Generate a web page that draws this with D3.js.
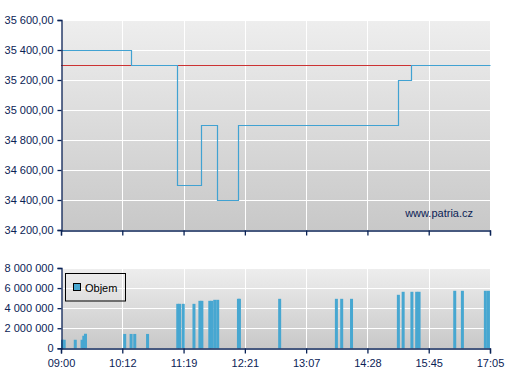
<!DOCTYPE html>
<html>
<head>
<meta charset="utf-8">
<script src="https://cdn.jsdelivr.net/npm/d3@7"></script>
<style>
  body { margin: 0; background: #fff; }
  svg text { font-family: "Liberation Sans", Arial, sans-serif; font-size: 11px; fill: #0b2356; }
</style>
</head>
<body>
<div id="chart"></div>
<script>
// tick labels on the time axis (evenly spaced on the chart)
var timeTicks = ['09:00', '10:12', '11:19', '12:21', '13:07', '14:28', '15:45', '17:05'];
var priceTicks = [34200, 34400, 34600, 34800, 35000, 35200, 35400, 35600];
var volTicks = [0, 2000000, 4000000, 6000000, 8000000];

// price steps (value holds from this time on)
var priceTimes = ['09:00', '10:22', '11:12', '11:37', '11:53', '12:14', '15:07', '15:23', '17:05'];
var priceValues = [35400, 35300, 34500, 34900, 34400, 34900, 35200, 35300, 35300];
var prevClose = 35300;

// volume bars
var volTimes = ['09:00', '09:02', '09:15', '09:23', '09:25', '09:27', '10:13', '10:20', '10:24', '10:38',
  '11:11', '11:13', '11:17', '11:28', '11:34', '11:36', '11:44', '11:46', '11:49', '11:52',
  '12:13', '12:14', '12:46', '13:45', '13:52', '14:05', '15:05', '15:11', '15:22', '15:28',
  '15:31', '16:17', '16:27', '16:57', '17:01'];
var volValues = [850000, 850000, 850000, 850000, 1250000, 1450000, 1430000, 1430000, 1430000, 1430000,
  4430000, 4430000, 4430000, 4430000, 4730000, 4730000, 4730000, 4730000, 4830000, 4830000,
  4930000, 4930000, 4930000, 4930000, 4930000, 4930000, 5330000, 5630000, 5630000, 5630000,
  5630000, 5730000, 5730000, 5730000, 5730000];

var width = 507, height = 380;
var left = 61, right = 490;
var top1 = 20, bottom1 = 230;
var top2 = 268, bottom2 = 348.3;
var axisColor = '#0b2356';

function toMin(s) {
  var p = s.split(':');
  return +p[0] * 60 + +p[1];
}

var tickMins = timeTicks.map(toMin);
var x = d3.scaleLinear()
  .domain(tickMins)
  .range(tickMins.map(function (d, i) { return left + i * (right - left) / (tickMins.length - 1); }));

var y1 = d3.scaleLinear().domain([34200, 35600]).range([bottom1, top1]);
var y2 = d3.scaleLinear().domain([0, 8000000]).range([bottom2, top2]);

var svg = d3.select('#chart').append('svg')
  .attr('width', width)
  .attr('height', height);

var defs = svg.append('defs');
var grad = defs.append('linearGradient')
  .attr('id', 'bg')
  .attr('x1', 0).attr('y1', 0).attr('x2', 0).attr('y2', 1);
grad.append('stop').attr('offset', '0%').attr('stop-color', '#eeeeee');
grad.append('stop').attr('offset', '100%').attr('stop-color', '#c8c8c8');

function fmt(v, dec) {
  var s = d3.format(dec ? ',.2f' : ',.0f')(v);
  return s.replace(/,/g, ' ').replace('.', ',');
}

function panel(y, yTicks, top, bottom, dec, showLabels) {
  svg.append('rect')
    .attr('x', left).attr('y', top)
    .attr('width', right - left).attr('height', bottom - top)
    .attr('fill', 'url(#bg)');

  var g = svg.append('g');
  g.selectAll('.hg').data(yTicks).enter().append('line')
    .attr('x1', left).attr('x2', right)
    .attr('y1', function (d) { return Math.round(y(d)) + 0.5; })
    .attr('y2', function (d) { return Math.round(y(d)) + 0.5; })
    .attr('stroke', '#fff').attr('stroke-width', 1);
  g.selectAll('.vg').data(tickMins).enter().append('line')
    .attr('y1', top).attr('y2', bottom)
    .attr('x1', function (d) { return Math.round(x(d)) + 0.5; })
    .attr('x2', function (d) { return Math.round(x(d)) + 0.5; })
    .attr('stroke', '#fff').attr('stroke-width', 1);
}

function axes(y, yTicks, top, bottom, dec, showLabels) {
  var ya = svg.append('g')
    .attr('transform', 'translate(' + (left + 0.5) + ',0)')
    .call(d3.axisLeft(y).tickValues(yTicks).tickSize(4).tickPadding(4)
      .tickFormat(function (d) { return fmt(d, dec); }));
  var xa = svg.append('g')
    .attr('transform', 'translate(0,' + (Math.round(bottom) + 0.5) + ')')
    .call(d3.axisBottom(x).tickValues(tickMins).tickSize(5).tickPadding(6)
      .tickFormat(function (d, i) { return showLabels ? timeTicks[i] : ''; }));
  [ya, xa].forEach(function (a) {
    a.selectAll('path').attr('stroke', axisColor).attr('stroke-width', 1.3);
    a.selectAll('line').attr('stroke', axisColor).attr('stroke-width', 1.3);
    a.selectAll('text').attr('font-size', null).attr('font-family', null).attr('fill', axisColor);
  });
}

// ---- price panel
panel(y1, priceTicks, top1, bottom1);

svg.append('line')
  .attr('x1', x(tickMins[0])).attr('x2', x(tickMins[tickMins.length - 1]))
  .attr('y1', Math.round(y1(prevClose)) + 0.5).attr('y2', Math.round(y1(prevClose)) + 0.5)
  .attr('stroke', '#cc3333').attr('stroke-width', 1);

var priceData = priceTimes.map(function (t, i) { return { t: toMin(t), v: priceValues[i] }; });
var line = d3.line()
  .x(function (d) { return Math.round(x(d.t)) + 0.5; })
  .y(function (d) { return Math.round(y1(d.v)) + 0.5; })
  .curve(d3.curveStepAfter);

svg.append('path')
  .datum(priceData)
  .attr('d', line)
  .attr('fill', 'none')
  .attr('stroke', '#41a2d2')
  .attr('stroke-width', 1.2);

svg.append('text')
  .attr('x', 473).attr('y', 217)
  .attr('text-anchor', 'end')
  .text('www.patria.cz');

axes(y1, priceTicks, top1, bottom1, true, false);

// ---- volume panel
panel(y2, volTicks, top2, bottom2);

var volData = volTimes.map(function (t, i) { return { t: toMin(t), v: volValues[i] }; });
svg.append('g').selectAll('rect').data(volData).enter().append('rect')
  .attr('x', function (d) { return Math.min(x(d.t), right - 3); })
  .attr('y', function (d) { return y2(d.v); })
  .attr('width', 3)
  .attr('height', function (d) { return bottom2 - y2(d.v); })
  .attr('fill', '#47a7d1');

// legend
var lg = svg.append('g');
lg.append('rect')
  .attr('x', 65.5).attr('y', 273.5).attr('width', 60).attr('height', 27.5)
  .attr('fill', 'none').attr('stroke', '#000').attr('stroke-width', 1);
lg.append('rect')
  .attr('x', 73.5).attr('y', 283.5).attr('width', 7).attr('height', 7)
  .attr('fill', '#47a7d1').attr('stroke', '#000').attr('stroke-width', 1);
lg.append('text')
  .attr('x', 85).attr('y', 292)
  .style('fill', '#000')
  .text('Objem');

axes(y2, volTicks, top2, bottom2, false, true);
</script>
</body>
</html>
